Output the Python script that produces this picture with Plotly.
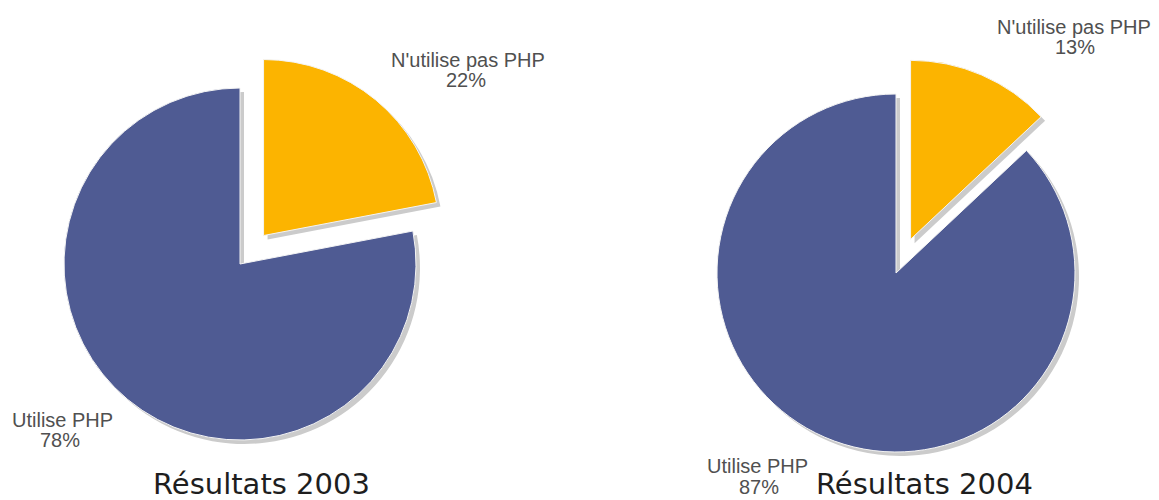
import plotly.graph_objects as go

W, H = 1159, 500
OFF = 8  # marge par defaut du <body> de la page

labels = ["N'utilise pas PHP", "Utilise PHP"]
values_2003 = [22, 78]
values_2004 = [13, 87]
titres = ["Résultats 2003", "Résultats 2004"]

couleurs = ["#fcb400", "#4f5b93"]
ombre = "#cbcbcb"


def px_x(x):
    return (x - OFF) / (W - OFF)


def px_y(y):
    return 1 - (y - OFF) / (H - OFF)


def domaine(cx, cy, r, pull, dx=0, dy=0):
    # boite du camembert en pixels -> coordonnees papier
    half = r * (1 + pull)
    return dict(x=[px_x(cx - half + dx), px_x(cx + half + dx)],
                y=[px_y(cy + half + dy), px_y(cy - half + dy)])


camemberts = [
    dict(values=values_2003, cx=240, cy=264, r=176, pull=0.21),
    dict(values=values_2004, cx=896, cy=273, r=179, pull=0.205),
]

fig = go.Figure()

# ombres grises derriere
for c in camemberts:
    fig.add_trace(go.Pie(
        labels=labels, values=c["values"], sort=False, direction="clockwise",
        rotation=0, pull=[c["pull"], 0], textinfo="none", hoverinfo="skip",
        marker=dict(colors=[ombre, ombre], line=dict(width=0)),
        domain=domaine(c["cx"], c["cy"], c["r"], c["pull"], dx=4, dy=4),
        showlegend=False,
    ))

for c in camemberts:
    fig.add_trace(go.Pie(
        labels=labels, values=c["values"], sort=False, direction="clockwise",
        rotation=0, pull=[c["pull"], 0], textinfo="none",
        marker=dict(colors=couleurs, line=dict(color="#f4f4f4", width=1)),
        domain=domaine(c["cx"], c["cy"], c["r"], c["pull"]),
        showlegend=False,
    ))

# etiquettes : (x, y) du nom puis (x, y) du pourcentage
positions = [
    [((468, 60), (466, 80)), ((62, 420), (60, 440))],
    [((1074, 27), (1075, 47)), ((757, 466), (759, 487))],
]
police = dict(family="Liberation Sans, Arial", size=20, color="#505050")
for c, pos in zip(camemberts, positions):
    for lab, val, (p_nom, p_val) in zip(labels, c["values"], pos):
        for txt, (x, y) in [(lab, p_nom), (f"{val}%", p_val)]:
            fig.add_annotation(
                x=px_x(x), y=px_y(y), xref="paper", yref="paper", text=txt,
                showarrow=False, xanchor="center", yanchor="middle", font=police,
            )

for t, (x, y) in zip(titres, [(261, 484), (924, 484)]):
    fig.add_annotation(
        x=px_x(x), y=px_y(y), xref="paper", yref="paper", text=t,
        showarrow=False, xanchor="center", yanchor="middle",
        font=dict(family="DejaVu Sans", size=29, color="#1e1e1e"),
    )

fig.update_layout(
    width=W - OFF, height=H - OFF, margin=dict(l=0, r=0, t=0, b=0),
    paper_bgcolor="white", plot_bgcolor="white",
)

fig.write_html("out.html")
